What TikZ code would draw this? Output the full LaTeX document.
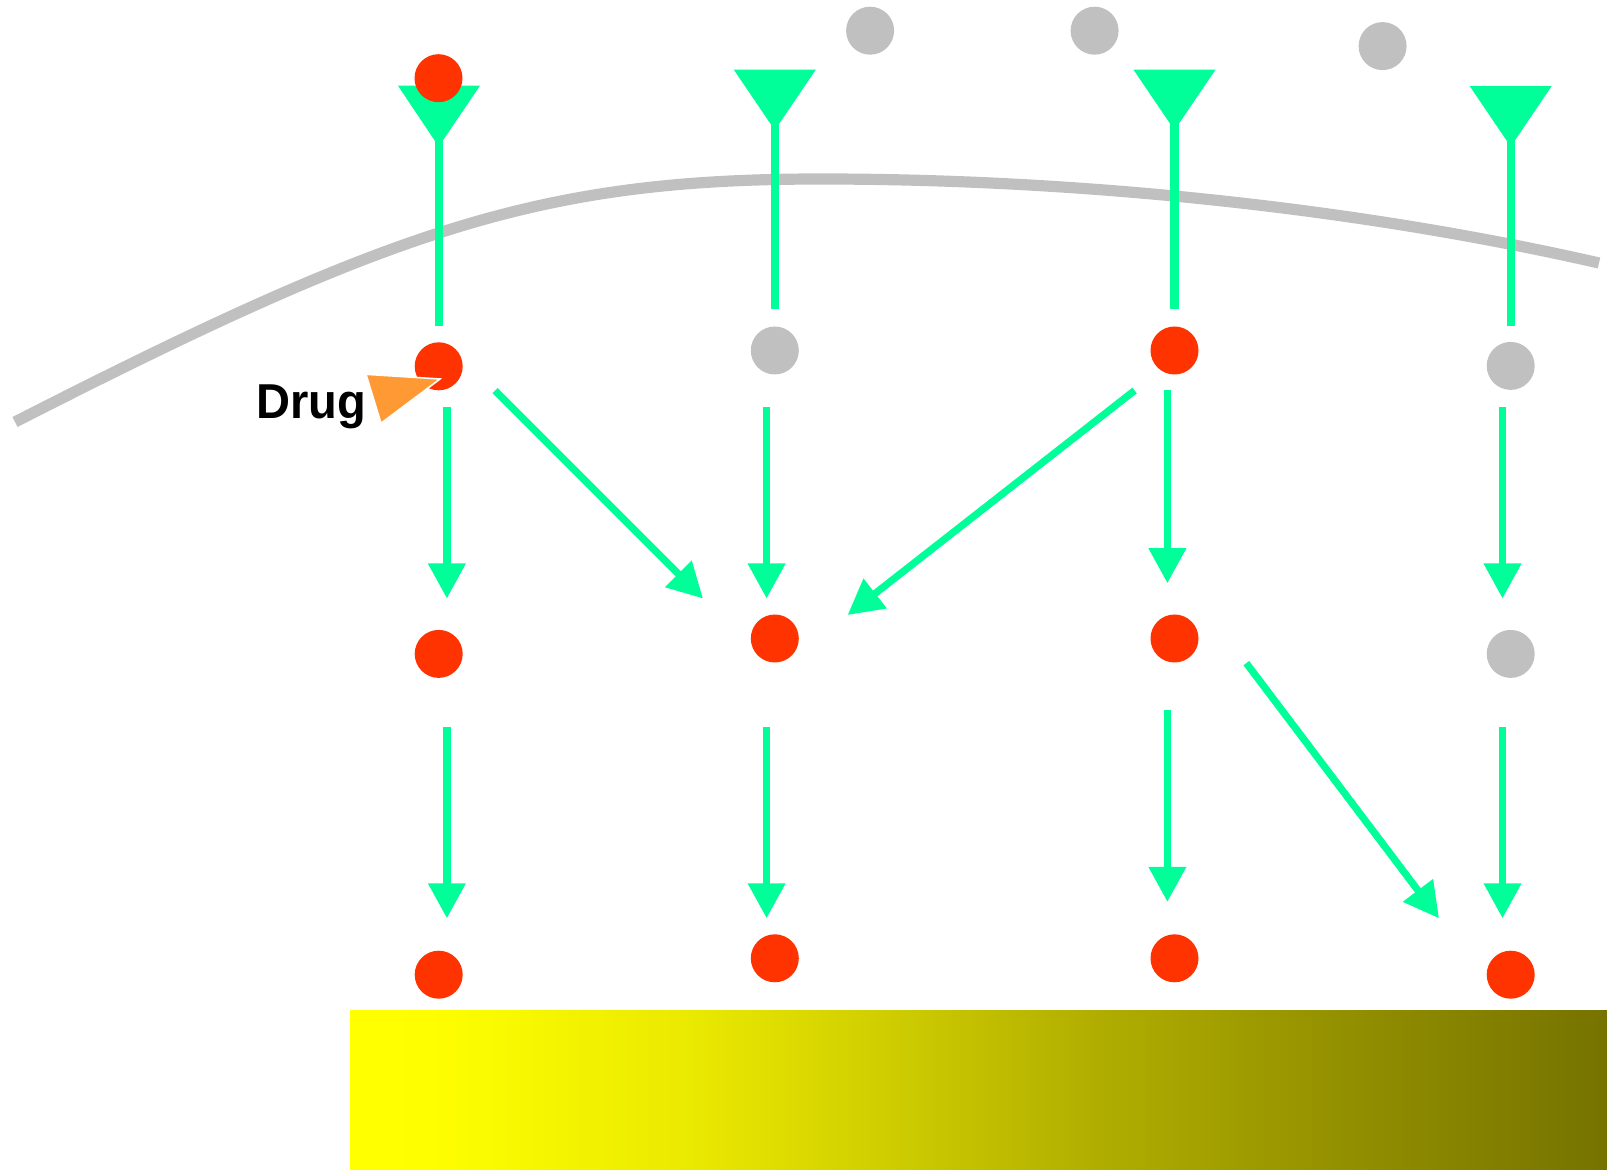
\documentclass[tikz,border=0pt]{standalone}
\usepackage{fontspec}
\setmainfont{Liberation Sans}
\usetikzlibrary{arrows.meta,calc}
\definecolor{dotred}{RGB}{255,51,0}
\definecolor{dotgray}{RGB}{192,192,192}
\definecolor{sgreen}{RGB}{0,255,153}
\definecolor{dorange}{RGB}{255,153,51}
\definecolor{ga}{RGB}{255,255,0}
\definecolor{gb}{RGB}{253,253,0}
\definecolor{gc}{RGB}{243,243,0}
\definecolor{gd}{RGB}{233,232,0}
\definecolor{ge}{RGB}{205,203,0}
\definecolor{gf}{RGB}{176,173,0}
\definecolor{gg}{RGB}{146,143,0}
\definecolor{gh}{RGB}{118,115,0}
\pgfdeclarehorizontalshading{barshade}{100bp}{color(0bp)=(ga); color(26.4bp)=(ga); color(29bp)=(gb); color(33.9bp)=(gc); color(38.9bp)=(gd); color(46.9bp)=(ge); color(54.8bp)=(gf); color(64.8bp)=(gg); color(75bp)=(gh); color(100bp)=(gh)}
\tikzset{
  reddot/.style={circle,fill=dotred,minimum size=24pt,inner sep=0pt},
  graydot/.style={circle,fill=dotgray,minimum size=24pt,inner sep=0pt},
  arr/.style={draw=sgreen,line width=3.6pt,-{Triangle[length=17.5pt,width=18pt]}},
  stem/.style={draw=sgreen,line width=4.2pt},
  receptor/.style={fill=sgreen},
  membrane/.style={draw=dotgray,line width=5.6pt},
}
\begin{document}
\begin{tikzpicture}[x=0.5pt,y=-0.5pt]
\useasboundingbox (0,0) rectangle (1607,1170);
% membrane
\coordinate (m0) at (15,422);
\coordinate (m1) at (821,179);
\coordinate (m2) at (1599,263);
\draw[membrane] (m0) .. controls (395,228) and (541,179) .. (m1)
                     .. controls (1071,179) and (1349,206) .. (m2);
% gradient bar
\shade[shading=barshade] (350,1010) rectangle (1607,1170);
% receptors
\fill[receptor] (398,85.7) -- (480,85.7) -- (438.7,146.6) -- cycle;
\fill[receptor] (733.8,69.7) -- (815.8,69.7) -- (774.8,130.2) -- cycle;
\fill[receptor] (1133.5,69.7) -- (1215.5,69.7) -- (1174.5,130.2) -- cycle;
\fill[receptor] (1469.7,86.1) -- (1551.7,86.1) -- (1510.7,146.6) -- cycle;
\coordinate (r1) at (438.7,140);
\coordinate (r2) at (774.8,124);
\coordinate (r3) at (1174.5,124);
\coordinate (r4) at (1510.7,140);
\coordinate (s1) at (438.7,325.9);
\coordinate (s2) at (774.8,309.5);
\coordinate (s3) at (1174.5,309.5);
\coordinate (s4) at (1510.7,325.9);
\draw[stem] (r1) -- (s1);
\draw[stem] (r2) -- (s2);
\draw[stem] (r3) -- (s3);
\draw[stem] (r4) -- (s4);
% top ligands
\node[reddot] (l1) at (438.5,78.2) {};
\node[graydot] (l2) at (870.1,30.7) {};
\node[graydot] (l3) at (1094.6,30.7) {};
\node[graydot] (l4) at (1382.6,46.1) {};
% row 2
\node[reddot] (d21) at (438.7,366.3) {};
\node[graydot] (d22) at (774.8,350.5) {};
\node[reddot] (d23) at (1174.5,350.5) {};
\node[graydot] (d24) at (1510.7,365.9) {};
% row 3
\node[reddot] (d31) at (438.7,653.9) {};
\node[reddot] (d32) at (774.8,638.5) {};
\node[reddot] (d33) at (1174.5,638.5) {};
\node[graydot] (d34) at (1510.7,653.9) {};
% row 4
\node[reddot] (d41) at (438.7,974.7) {};
\node[reddot] (d42) at (774.8,958.3) {};
\node[reddot] (d43) at (1174.5,958.3) {};
\node[reddot] (d44) at (1510.7,974.7) {};
% vertical arrows row 2 -> 3
\draw[arr] ($(d21)+(8.2,40.6)$) -- ($(d31)+(8.2,-55.4)$);
\draw[arr] ($(d22)+(-8.2,56.4)$) -- ($(d32)+(-8.2,-40)$);
\draw[arr] ($(d23)+(-7.1,40)$) -- ($(d33)+(-7.1,-55.3)$);
\draw[arr] ($(d24)+(-8.2,41)$) -- ($(d34)+(-8.2,-55.4)$);
% vertical arrows row 3 -> 4
\draw[arr] ($(d31)+(8.2,72.8)$) -- ($(d41)+(8.2,-56.4)$);
\draw[arr] ($(d32)+(-8.2,88.2)$) -- ($(d42)+(-8.2,-40)$);
\draw[arr] ($(d33)+(-7.1,71.8)$) -- ($(d43)+(-7.1,-56.4)$);
\draw[arr] ($(d34)+(-8.2,72.8)$) -- ($(d44)+(-8.2,-56.4)$);
% diagonal arrows
\draw[arr] ($(d21)+(56.3,24.2)$) -- ($(d32)+(-71.8,-40)$);
\draw[arr] ($(d23)+(-39.9,40)$) -- ($(d32)+(72.8,-23.5)$);
\draw[arr] ($(d33)+(71.8,24.6)$) -- ($(d44)+(-71.7,-56.4)$);
% drug
\fill[dorange,draw=white,line width=0.8pt] (366,374.3) -- (440,379) -- (381,423.3) -- cycle;
\node[anchor=base west,inner sep=0pt,xscale=0.96,font=\bfseries\fontsize{24.5pt}{28pt}\selectfont] (drug) at (256,418.3) {Drug};
\end{tikzpicture}
\end{document}
